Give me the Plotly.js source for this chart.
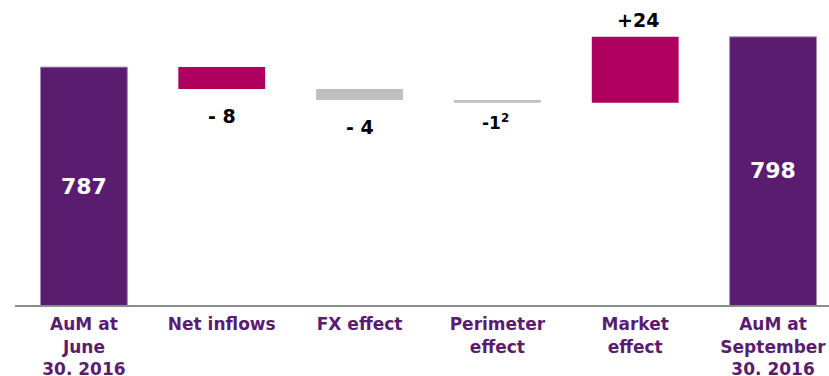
<!DOCTYPE html>
<html>
<head>
<meta charset="utf-8">
<script src="https://cdn.plot.ly/plotly-3.0.1.min.js"></script>
<style>
  html, body { margin: 0; padding: 0; background: #ffffff; overflow: hidden; }
  #chart { width: 829px; height: 376px; }
</style>
</head>
<body>
<div id="chart"></div>
<script>
// Assets under management bridge, June -> September 2016 (EUR bn)
const categories = [
  'AuM at<br>June<br>30. 2016',
  'Net inflows',
  'FX effect',
  'Perimeter<br>effect',
  'Market<br>effect',
  'AuM at<br>September<br>30. 2016'
];
const values   = [787, -8, -4, -1, 24, 798];
const measures = ['absolute', 'relative', 'relative', 'relative', 'relative', 'total'];
const valueLabels = ['787', '- 8', '- 4', '-1<sup>2</sup>', '+24', '798'];

// colours
const PURPLE = '#5a1c6e';
const MAGENTA = '#b0005f';
const GREY = '#bfbfbf';
const barColors = [PURPLE, MAGENTA, GREY, GREY, MAGENTA, PURPLE];

const yMin = 700.5, yMax = 811.4;

// running totals -> bar base and length
const bases = [], lengths = [], ends = [];
let running = 0;
values.forEach((v, i) => {
  if (measures[i] === 'relative') {
    bases.push(running);
    lengths.push(v);
    running += v;
  } else {
    bases.push(0);
    lengths.push(v);
    running = v;
  }
  ends.push(running);
});

const trace = {
  type: 'bar',
  x: categories,
  base: bases,
  y: lengths,
  width: 0.63,
  marker: {
    color: barColors,
    line: {
      color: barColors.map(c => c === PURPLE ? '#a48cb6' : c),
      width: barColors.map(c => c === PURPLE ? 1 : 0)
    }
  },
  hoverinfo: 'skip'
};

const FONT = 'DejaVu Sans, Verdana, sans-serif';

const annotations = values.map((v, i) => {
  const base = {
    x: categories[i],
    xref: 'x', yref: 'y',
    text: valueLabels[i],
    showarrow: false,
    font: { family: FONT, size: 19, color: '#000000', weight: 700 }
  };
  if (measures[i] !== 'relative') {
    // centred in the visible part of the column
    base.y = (yMin + values[i]) / 2;
    base.yanchor = 'middle';
    base.font = Object.assign({}, base.font, { size: 22, color: '#ffffff' });
  } else if (v < 0) {
    base.y = ends[i];
    base.yanchor = 'middle';
    if (Math.abs(v) < 2) {
      base.font = Object.assign({}, base.font, { size: 17 });
      base.yshift = -19;
      base.xshift = -2;
    } else {
      base.yshift = -27;
    }
  } else {
    base.y = ends[i];
    base.yanchor = 'middle';
    base.yshift = 17;
    base.xshift = 3;
  }
  return base;
});

const layout = {
  width: 829,
  height: 376,
  margin: { l: 15, r: 0, t: 0, b: 71, pad: 0 },
  paper_bgcolor: '#ffffff',
  plot_bgcolor: '#ffffff',
  showlegend: false,
  xaxis: {
    type: 'category',
    range: [-0.5, 5.406],
    showline: true,
    linecolor: '#8c8c8c',
    linewidth: 2,
    ticks: '',
    ticklabelstandoff: 3,
    showgrid: false,
    zeroline: false,
    tickfont: { family: FONT, size: 17, color: PURPLE, weight: 700 },
    fixedrange: true
  },
  yaxis: {
    range: [yMin, yMax],
    visible: false,
    showgrid: false,
    zeroline: false,
    fixedrange: true
  },
  annotations: annotations
};

Plotly.newPlot('chart', [trace], layout, { displayModeBar: false, staticPlot: true });
</script>
</body>
</html>
